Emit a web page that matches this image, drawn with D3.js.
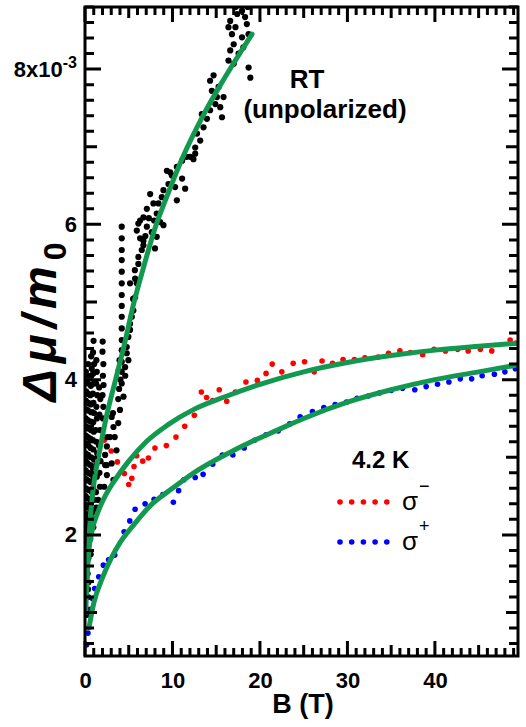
<!DOCTYPE html>
<html><head><meta charset="utf-8">
<script src="https://cdn.jsdelivr.net/npm/d3@7"></script>
<style>
body{margin:0;background:#fff}
svg{display:block}
</style>
</head><body>
<svg id="chart" width="526" height="727"></svg>
<script>
const xMajorTicks = [0, 10, 20, 30, 40];
const yMajorTicks = [2, 4, 6, 8];
const yTickLabels = {2: "2", 4: "4", 6: "6", 8: "8x10"};
const xTickValues = [0,1,2,3,4,5,6,7,8,9,10,11,12,13,14,15,16,17,18,19,20,21,22,23,24,25,26,27,28,29,30,31,32,33,34,35,36,37,38,39,40,41,42,43,44,45,46,47,48,49];
const yTickValues = [0.6,0.8,1,1.2,1.4,1.6,1.8,2,2.2,2.4,2.6,2.8,3,3.2,3.4,3.6,3.8,4,4.2,4.4,4.6,4.8,5,5.2,5.4,5.6,5.8,6,6.2,6.4,6.6,6.8,7,7.2,7.4,7.6,7.8,8,8.2,8.4,8.6,8.8];

const rtPoints = [
 [0.08,1.05],[0.1,1.2],[0.07,1.4],[0.12,1.6],[0.09,1.78],[0.1,1.92],[0.06,2.05],[0.12,2.15],[0.08,2.27],[0.11,2.38],[0.07,2.5],[0.1,2.6],[0.12,2.72],[0.08,2.83],[0.1,2.95],[0.07,3.05],[0.12,3.17],[0.09,3.28],[0.1,3.4],[0.07,3.5],[0.11,3.62],[0.09,3.73],[0.12,3.85],[0.08,3.97],[0.1,4.1],
 [0.35,1.3],[0.3,1.5],[0.38,1.7],[0.33,1.88],[0.36,2.0],[0.3,2.12],[0.37,2.24],[0.34,2.35],[0.31,2.47],[0.38,2.58],[0.33,2.7],[0.36,2.8],[0.3,2.92],[0.35,3.03],[0.38,3.15],[0.32,3.26],[0.36,3.37],[0.3,3.48],[0.34,3.6],[0.38,3.7],[0.33,3.82],[0.36,3.95],[0.31,4.05],[0.35,4.2],
 [0.65,1.75],[0.6,1.95],[0.68,2.1],[0.62,2.22],[0.66,2.33],[0.6,2.45],[0.7,2.56],[0.63,2.68],[0.67,2.78],[0.61,2.9],[0.69,3.0],[0.64,3.12],[0.6,3.24],[0.68,3.35],[0.63,3.46],[0.7,3.58],[0.65,3.68],[0.61,3.8],[0.67,3.92],[0.72,4.05],[0.77,4.14],[0.7,4.3],
 [0.95,2.1],[0.9,2.3],[1.0,2.45],[0.93,2.6],[0.98,2.73],[0.91,2.85],[1.02,2.97],[0.95,3.1],[0.9,3.22],[1.0,3.33],[0.94,3.45],[1.03,3.57],[0.96,3.7],[0.9,3.82],[1.0,3.95],[0.95,4.08],[1.05,4.2],[0.92,4.35],[0.98,4.5],
 [1.3,2.35],[1.25,2.55],[1.35,2.75],[1.28,2.9],[1.4,3.05],[1.3,3.2],[1.22,3.35],[1.36,3.5],[1.3,3.65],[1.4,3.8],[1.27,3.95],[1.35,4.1],[1.3,4.25],
 [1.5,2.45],[1.7,2.62],[1.65,2.8],[1.75,2.95],[1.6,3.15],[1.72,3.35],[1.65,3.55],[1.75,3.75],[1.62,3.9],
 [2.05,3.5],[2.1,3.65],[2.0,3.8],[2.12,3.93],[2.05,4.05],[2.1,4.2],[2.0,4.36],[2.02,4.49],
 [2.5,2.77],[2.5,2.9],[2.3,3.03],[2.5,3.14],[2.55,3.26],[2.2,2.62],[2.3,2.9],
 [3.05,3.52],[3.25,3.39],[2.86,3.26],[3.05,2.92],[3.25,2.71],[3.2,3.57],
 [3.6,3.09],[3.4,3.26],[3.8,3.44],[4.0,3.61],[3.8,3.75],[3.9,3.88],[4.05,4.0],[3.85,4.12],[3.95,4.25],
 [4.2,3.95],[4.2,4.1],[4.2,4.23],[4.2,4.38],[4.2,4.51],[4.2,4.66],[4.2,4.81],[4.2,4.95],[4.2,5.09],[4.2,5.24],[4.2,5.39],[4.2,5.54],[4.2,5.67],[4.2,5.82],[4.2,5.97],
 [4.4,3.78],[4.58,4.16],[4.6,4.05],[4.77,4.34],[4.77,4.42],[4.96,4.25],[4.96,4.55],[5.15,4.64],[5.15,4.72],[5.35,4.81],[5.53,4.89],[5.5,5.04],[5.15,5.24],[5.73,5.06],[5.92,5.24],[5.7,5.41],[5.73,5.3],[6.1,5.49],[6.1,5.58],[6.49,5.67],[6.68,5.79],[5.92,5.92],[6.3,6.05],[6.3,5.82],[6.68,5.73],[6.1,6.01],
 [7.45,6.39],[7.82,6.27],[7.07,6.2],[8.2,6.14],[8.6,6.03],[6.68,6.09],[7.07,5.97],[7.64,5.9],[8.2,5.84],[8.0,5.69],[8.4,6.27],[8.97,6.44],[9.54,6.52],[9.93,6.63],[9.36,6.69],[10.5,6.74],[11.1,6.82],[11.6,6.87],[12.6,6.91],[12.4,6.84],[10.3,6.48],[11.1,6.59],[11.45,6.46],[10.5,6.31],[8.78,6.35],[8.97,5.99],[9.74,6.67],[7.3,6.08],[7.9,6.05],[6.9,5.85],
 [12.03,6.87],[12.6,6.99],[13.17,7.08],[12.8,7.17],[13.55,7.25],[13.94,7.36],[13.36,7.42],[14.3,7.47],[14.9,7.55],[15.46,7.51],[15.66,7.38],[15.08,7.64],[14.5,7.72],[14.3,7.85],[14.7,7.92],[15.27,7.77],[15.84,7.64],
 [16.4,8.11],[16.6,8.24],[17.0,8.32],[16.8,8.45],[17.2,8.54],[16.6,8.62],[17.4,8.71],[17.95,8.75],[18.3,8.67],[18.5,8.58],[18.7,8.45],[17.95,8.41],[17.56,8.2],[18.1,8.28],[18.7,8.02],[18.9,7.89],[17.2,8.8],[16.4,8.54],[17.0,8.07],[18.6,8.8],
 [0.2,0.97],[0.35,1.2],[0.4,1.39]
];

const sigmaMinusB = [0.2,0.6,1.1,1.8,2.2,3.0,3.7,4.5,5.0,5.35,5.6,5.9,6.6,7.25,8.0,9.3,10.4,11.4,12.5,13.3,13.9,14.6,15.35,16.2,17.2,18.4,19.7,20.7,21.4,22.5,23.8,25.1,26.2,27.1,28.3,29.5,30.8,32.0,33.5,34.7,36.0,37.2,38.6,39.9,41.2,42.6,43.8,45.2,46.5,48.6,49.3];
const sigmaMinusV = [2.1,2.3,2.24,2.95,3.22,3.08,2.94,2.79,2.65,2.73,2.88,3.02,2.95,2.99,3.12,3.15,3.26,3.40,3.54,3.84,3.77,3.73,3.87,3.72,3.84,3.97,3.99,4.08,4.20,4.10,4.21,4.23,4.10,4.24,4.21,4.26,4.26,4.28,4.29,4.34,4.37,4.35,4.32,4.39,4.37,4.39,4.37,4.39,4.37,4.51,4.47];

const sigmaPlusB = [0.19,0.34,0.57,0.85,1.11,1.57,2.1,2.7,3.4,4.47,5.12,5.73,6.87,7.9,8.9,10.1,10.7,11.3,12.6,13.5,14.6,15.7,16.9,18.2,19.4,20.7,22.1,23.4,24.6,26.0,27.3,28.6,29.9,31.1,32.4,33.7,35.0,36.3,37.7,39.0,40.3,41.6,42.9,44.2,45.4,46.8,48.0,49.2];
const sigmaPlusV = [0.585,0.735,1.04,1.18,1.31,1.46,1.61,1.68,1.74,2.04,2.18,2.33,2.40,2.46,2.52,2.42,2.57,2.71,2.74,2.78,2.91,3.03,3.03,3.12,3.22,3.29,3.34,3.43,3.52,3.59,3.64,3.68,3.71,3.76,3.79,3.83,3.86,3.89,3.87,3.91,3.94,3.97,4.01,4.01,4.05,4.07,4.10,4.14];

const fitRT_B = [0.08,0.3,0.6,1.0,1.7,2.5,3.5,4.5,5.5,6.7,8,9.5,11.2,13.5,15.5,17.4,19.1];
const fitRT_V = [1.0,1.6,2.2,2.65,3.1,3.55,4.0,4.45,4.95,5.45,5.95,6.4,6.87,7.4,7.8,8.15,8.45];
const fitMinusB = [0.15,0.4,0.8,1.5,2.3,3.5,5,7,9.5,12.5,16,20,25,30,35,40,45,49.5];
const fitMinusV = [1.3,1.75,2.05,2.3,2.5,2.72,2.95,3.2,3.42,3.62,3.78,3.94,4.1,4.22,4.31,4.38,4.43,4.47];
const fitPlusB = [0.45,1,2,3,4,5.5,7.5,10,13,16,19,22,25,30,35,40,45,49.5];
const fitPlusV = [0.8,1.12,1.45,1.7,1.9,2.12,2.38,2.6,2.84,3.03,3.2,3.35,3.5,3.71,3.87,4.0,4.1,4.19];

const FONT = '"Liberation Sans", Arial, Helvetica, sans-serif';
const svg = d3.select("#chart").attr("font-family", FONT);
const L = 85, R = 518, T = 7, B = 656;
const x = d3.scaleLinear().domain([0, 49.5]).range([L, R]);
const y = d3.scaleLinear().domain([0.44, 8.8]).range([B, T]);
const GREEN = "#12994f";

svg.append("defs").append("clipPath").attr("id","clip").append("rect")
  .attr("x", L).attr("y", T).attr("width", R-L).attr("height", B-T);
const plot = svg.append("g").attr("clip-path","url(#clip)");
const zip = (a,b) => a.map((d,i)=>[d,b[i]]);

plot.append("g").selectAll("circle").data(zip(sigmaMinusB, sigmaMinusV)).join("circle")
  .attr("cx", d=>x(d[0])).attr("cy", d=>y(d[1])).attr("r", 2.8).attr("fill", "#ff0000");
plot.append("g").selectAll("circle").data(zip(sigmaPlusB, sigmaPlusV)).join("circle")
  .attr("cx", d=>x(d[0])).attr("cy", d=>y(d[1])).attr("r", 2.8).attr("fill", "#0000ff");
plot.append("g").selectAll("circle").data(rtPoints).join("circle")
  .attr("cx", d=>x(d[0])).attr("cy", d=>y(d[1])).attr("r", 3.1).attr("fill", "#000");

const line = d3.line().x(d=>x(d[0])).y(d=>y(d[1])).curve(d3.curveMonotoneX);
[[fitRT_B, fitRT_V],[fitMinusB, fitMinusV],[fitPlusB, fitPlusV]].forEach(([bx, vy]) => {
  plot.append("path").datum(zip(bx, vy)).attr("d", line)
    .attr("fill","none").attr("stroke", GREEN).attr("stroke-width", 5).attr("stroke-linecap","round");
});

svg.append("rect").attr("x",L).attr("y",T).attr("width",R-L).attr("height",B-T)
  .attr("fill","none").attr("stroke","#000").attr("stroke-width",3);

// ticks: one path, inward on all four sides
function xLen(v){ return v % 10 === 0 ? 15 : (v % 5 === 0 ? 11 : 8); }
function yLen(v){ const r = Math.round(v*10); return r % 20 === 0 ? 16 : (r % 10 === 0 ? 12 : 9); }
let dStr = "";
xTickValues.forEach(v => {
  const px = x(v);
  dStr += `M${px},${B}V${B - xLen(v)}M${px},${T}V${T + xLen(v)}`;
});
yTickValues.forEach(v => {
  const py = y(v);
  dStr += `M${L},${py}H${L + yLen(v)}M${R},${py}H${R - yLen(v)}`;
});
svg.append("path").attr("d", dStr).attr("fill","none").attr("stroke","#000").attr("stroke-width",3);

const gx = svg.append("g").attr("transform",`translate(0,${B})`)
  .call(d3.axisBottom(x).tickValues(xMajorTicks).tickSize(0).tickPadding(16).tickFormat(d3.format("d")));
gx.select(".domain").remove();
gx.selectAll("text").attr("font-size",22).attr("font-weight","bold").attr("fill","#000").attr("font-family",FONT);

const gy = svg.append("g").attr("transform",`translate(${L},0)`)
  .call(d3.axisLeft(y).tickValues(yMajorTicks).tickSize(0).tickPadding(8).tickFormat(d => yTickLabels[d]));
gy.select(".domain").remove();
gy.selectAll("text").attr("font-size",22).attr("font-weight","bold").attr("fill","#000").attr("font-family",FONT);
gy.selectAll(".tick").filter(d => d === 8).select("text")
  .append("tspan").attr("dy","-0.55em").attr("font-size",16).text("-3");

svg.append("text").attr("x",303).attr("y",713).attr("text-anchor","middle")
  .attr("font-size",27).attr("font-weight","bold").text("B (T)");

const yl = svg.append("text").attr("transform","translate(56,319) rotate(-90)")
  .attr("text-anchor","middle").attr("font-size",48).attr("font-weight","bold")
  .attr("letter-spacing",6);
yl.append("tspan").attr("font-style","italic").text("Δμ/m");
yl.append("tspan").attr("font-size",32).attr("dy",10).text("0");

svg.append("text").attr("x",307).attr("y",88).attr("text-anchor","middle")
  .attr("font-size",26).attr("font-weight","bold").text("RT");
svg.append("text").attr("x",325).attr("y",118).attr("text-anchor","middle")
  .attr("font-size",26).attr("font-weight","bold").text("(unpolarized)");
svg.append("text").attr("x",352).attr("y",468)
  .attr("font-size",24).attr("font-weight","bold").text("4.2 K");

const legendSlots = [0,1,2,3,4];
const legendRows = [{c:"#ff0000", yy:502, sup:"\u2212", ty:510}, {c:"#0000ff", yy:542, sup:"+", ty:550}];
legendRows.forEach(r=>{
  svg.append("g").selectAll("circle").data(legendSlots).join("circle")
    .attr("cx", i=>340 + i*11.7).attr("cy", r.yy).attr("r", 2.8).attr("fill", r.c);
  const t = svg.append("text").attr("x",402).attr("y",r.ty).attr("font-size",26);
  t.append("tspan").text("σ");
  t.append("tspan").attr("font-size",18).attr("dy",-18).attr("dx",1).text(r.sup);
});
</script>
</body></html>
